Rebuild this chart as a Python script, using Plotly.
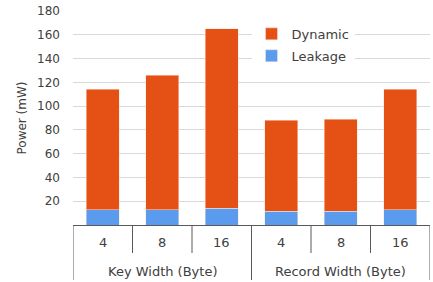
import plotly.graph_objects as go

groups = ["Key Width (Byte)", "Record Width (Byte)"]
widths = ["4", "8", "16", "4", "8", "16"]
leakage = [13, 13, 14, 11.5, 11.5, 13]
dynamic = [101, 113, 151, 76.5, 77.5, 101]
y_ticks = [20, 40, 60, 80, 100, 120, 140, 160, 180]

FONT = "DejaVu Sans"
TXT = "#404040"
LINE = "#595959"
PLOT_H = 282 - 11 - 57

xs = list(range(len(widths)))
fig = go.Figure()
fig.add_trace(go.Bar(x=xs, y=leakage, name="Leakage", legendgroup="l", legendrank=2,
                     marker=dict(color="#5A9BEE", line=dict(color="#FCE3D8", width=0.5))))
fig.add_trace(go.Bar(x=xs, y=dynamic, name="Dynamic", legendgroup="d", legendrank=1,
                     marker=dict(color="#E55014", line=dict(color="#FCE3D8", width=0.5))))

def py(px):
    return -px / PLOT_H

# inner category labels
for i, w in enumerate(widths):
    fig.add_annotation(x=i, y=py(18), xref="x", yref="paper", text=w, showarrow=False,
                       yanchor="middle", font=dict(family=FONT, size=13, color=TXT))
# group labels
n_per = len(widths) // len(groups)
for g, name in enumerate(groups):
    cx = g * n_per + (n_per - 1) / 2
    fig.add_annotation(x=cx, y=py(46.5), xref="x", yref="paper", text=name, showarrow=False,
                       yanchor="middle", font=dict(family=FONT, size=13, color=TXT))
# dividers
for b in range(len(widths) + 1):
    full = (b % n_per == 0)
    fig.add_shape(type="line", xref="x", yref="paper", x0=b - 0.5, x1=b - 0.5,
                  y0=0, y1=py(55 if full else 28),
                  line=dict(color=LINE, width=1))

fig.update_layout(
    barmode="stack",
    bargap=0.45,
    width=433, height=282,
    margin=dict(l=73, r=3, t=11, b=57),
    paper_bgcolor="white", plot_bgcolor="white",
    font=dict(family=FONT, size=12, color=TXT),
    legend=dict(x=0.5, y=0.963, xanchor="left", yanchor="top",
                traceorder="grouped", tracegroupgap=2,
                bgcolor="white", font=dict(size=13, color=TXT), itemwidth=30),
    showlegend=True,
)
fig.update_yaxes(range=[0, 180], tickvals=y_ticks, automargin=False,
                 showgrid=True, gridcolor="#D9D9D9", gridwidth=1, zeroline=False,
                 showline=False, ticks="", ticklabelstandoff=12,
                 title=dict(text="Power (mW)", font=dict(size=12, color=TXT), standoff=7))
fig.update_xaxes(range=[-0.5, len(widths) - 0.5], automargin=False, showticklabels=False,
                 showline=True, linecolor=LINE, linewidth=1, ticks="", showgrid=False,
                 zeroline=False)

fig.write_html("out.html", config={"displayModeBar": False},
               post_script="document.body.style.margin='0';")
